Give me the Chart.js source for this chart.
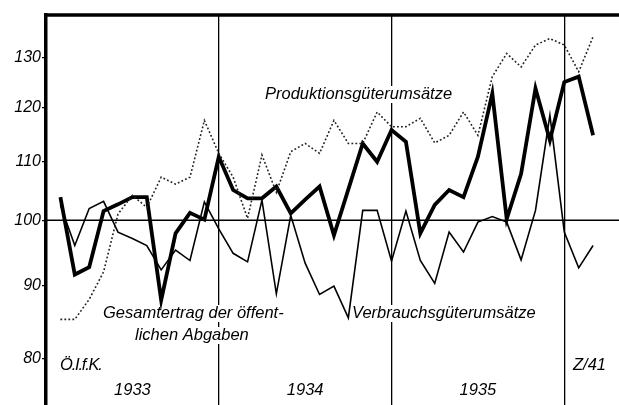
<!DOCTYPE html>
<html>
<head>
<meta charset="utf-8">
<script src="https://cdn.jsdelivr.net/npm/chart.js@4/dist/chart.umd.min.js"></script>
<style>
  html, body { margin: 0; padding: 0; background: #fff; }
  #c { display: block; }
</style>
</head>
<body>
<canvas id="c" width="619" height="405"></canvas>
<script>
// Monthly index values
const monthIndex = [1,2,3,4,5,6,7,8,9,10,11,12,13,14,15,16,17,18,19,20,21,22,23,24,25,26,27,28,29,30,31,32,33,34,35,36,37,38];

const gesamtertrag = [103.8, 91.6, 92.7, 101.5, 102.6, 103.8, 103.8, 87.9, 97.9, 101.2, 100.1, 110.8,
                      105.0, 103.6, 103.6, 105.6, 101.1, 103.4, 105.6, 97.6, 105.1, 113.2, 109.9, 115.7,
                      113.5, 97.9, 102.5, 105.0, 103.8, 110.8, 122.7, 100.2, 107.8, 123.7, 113.8, 125.0,
                      126.1, 114.7];

const produktion = [85.2, 85.2, 88.0, 92.0, 101.0, 104.1, 102.1, 107.2, 106.0, 107.2, 117.5, 111.4,
                    107.2, 100.3, 111.1, 104.6, 111.7, 113.2, 111.4, 117.5, 113.2, 113.2, 119.1, 116.3,
                    116.3, 117.9, 113.3, 114.7, 119.1, 114.7, 126.1, 130.9, 128.1, 132.7, 134.1, 132.7,
                    127.1, 134.5];

const verbrauch = [102.5, 96.0, 101.9, 103.1, 98.1, 97.1, 96.0, 92.3, 95.3, 93.7, 103.0, 98.6,
                   94.8, 93.5, 103.3, 88.8, 100.8, 93.3, 88.7, 89.9, 85.4, 101.6, 101.6, 93.6,
                   101.5, 93.7, 90.3, 98.1, 95.0, 99.7, 100.6, 99.7, 93.8, 101.6, 118.5, 98.1,
                   92.6, 96.0];

const yTicks = [80, 90, 100, 110, 120, 130];
const yearBoundaries = [12, 24, 36];
const yearLabels = ['1933', '1934', '1935'];
const yearCenters = [6, 18, 30];
const referenceValue = 100;

const FAMILY = '"Liberation Sans", Arial, sans-serif';
const FONT = 'italic 16.5px ' + FAMILY;

function pts(arr) { return arr.map((v, i) => ({ x: monthIndex[i], y: v })); }

const overlay = {
  id: 'overlay',
  beforeDatasetsDraw(chart) {
    const { ctx, chartArea, scales } = chart;
    ctx.save();
    ctx.fillStyle = '#000';
    ctx.textBaseline = 'alphabetic';
    const texts = [
      ['Produktionsgüterumsätze', 265, 99, 'left', '0px'],
      ['Gesamtertrag der öffent-', 103, 318, 'left', '0px'],
      ['lichen Abgaben', 135, 340, 'left', '0px'],
      ['Verbrauchsgüterumsätze', 352, 318, 'left', '0px'],
      ['Ö.I.f.K.', 60, 370, 'left', '-1.2px'],
      ['Z/41', 573, 370, 'left', '0px']
    ];
    yearLabels.forEach((t, i) => texts.push([t, scales.x.getPixelForValue(yearCenters[i]), 395, 'center', '0px']));
    ctx.font = FONT;
    // knock out grid lines behind labels
    texts.forEach(([t, x, y, a, ls]) => {
      ctx.letterSpacing = ls;
      const w = ctx.measureText(t).width;
      const x0 = a === 'center' ? x - w / 2 : x;
      ctx.fillStyle = '#fff';
      ctx.fillRect(x0 - 3, y - 13, w + 6, 17);
    });
    ctx.fillStyle = '#000';
    texts.forEach(([t, x, y, a, ls]) => {
      ctx.letterSpacing = ls;
      ctx.textAlign = a;
      ctx.fillText(t, x, y);
    });
    ctx.letterSpacing = '0px';
    // reference line at 100
    const y100 = scales.y.getPixelForValue(referenceValue);
    ctx.strokeStyle = '#000';
    ctx.lineWidth = 1.5;
    ctx.beginPath();
    ctx.moveTo(chartArea.left, y100);
    ctx.lineTo(chartArea.right, y100);
    ctx.stroke();
    // top frame
    ctx.lineWidth = 3.5;
    ctx.beginPath();
    ctx.moveTo(chartArea.left - 1.5, chartArea.top);
    ctx.lineTo(chartArea.right, chartArea.top);
    ctx.stroke();
    ctx.restore();
  }
};

new Chart(document.getElementById('c'), {
  type: 'line',
  data: {
    datasets: [
      { label: 'Produktionsgüterumsätze', data: pts(produktion), borderColor: '#222', borderWidth: 1.6,
        borderDash: [1.8, 2.2], pointRadius: 0, tension: 0 },
      { label: 'Verbrauchsgüterumsätze', data: pts(verbrauch), borderColor: '#000', borderWidth: 1.6,
        pointRadius: 0, tension: 0 },
      { label: 'Gesamtertrag der öffentlichen Abgaben', data: pts(gesamtertrag), borderColor: '#000', borderWidth: 3.8,
        pointRadius: 0, tension: 0 }
    ]
  },
  options: {
    responsive: false,
    animation: false,
    devicePixelRatio: 1,
    layout: { padding: { top: 15, left: 0, right: 0, bottom: 0 } },
    plugins: { legend: { display: false }, tooltip: { enabled: false } },
    scales: {
      x: {
        type: 'linear',
        min: 0,
        max: 39.8,
        afterBuildTicks(scale) { scale.ticks = yearBoundaries.map(v => ({ value: v })); },
        afterFit(scale) { scale.height = 0; scale.paddingLeft = 0; scale.paddingRight = 0; },
        ticks: { display: false },
        grid: { color: '#000', lineWidth: 1.3, drawTicks: false },
        border: { display: false }
      },
      y: {
        type: 'logarithmic',
        min: 74.2,
        max: 139.3,
        afterBuildTicks(scale) { scale.ticks = yTicks.map(v => ({ value: v })); },
        afterFit(scale) { scale.width = 46; scale.paddingTop = 0; scale.paddingBottom = 0; },
        ticks: {
          color: '#000',
          font: { family: FAMILY, size: 16, style: 'italic' },
          padding: 1,
          callback: v => String(v)
        },
        grid: { drawOnChartArea: false, drawTicks: true, tickLength: 4, color: '#000', lineWidth: 1.2 },
        border: { display: true, color: '#000', width: 3.5 }
      }
    }
  },
  plugins: [overlay]
});
</script>
</body>
</html>
